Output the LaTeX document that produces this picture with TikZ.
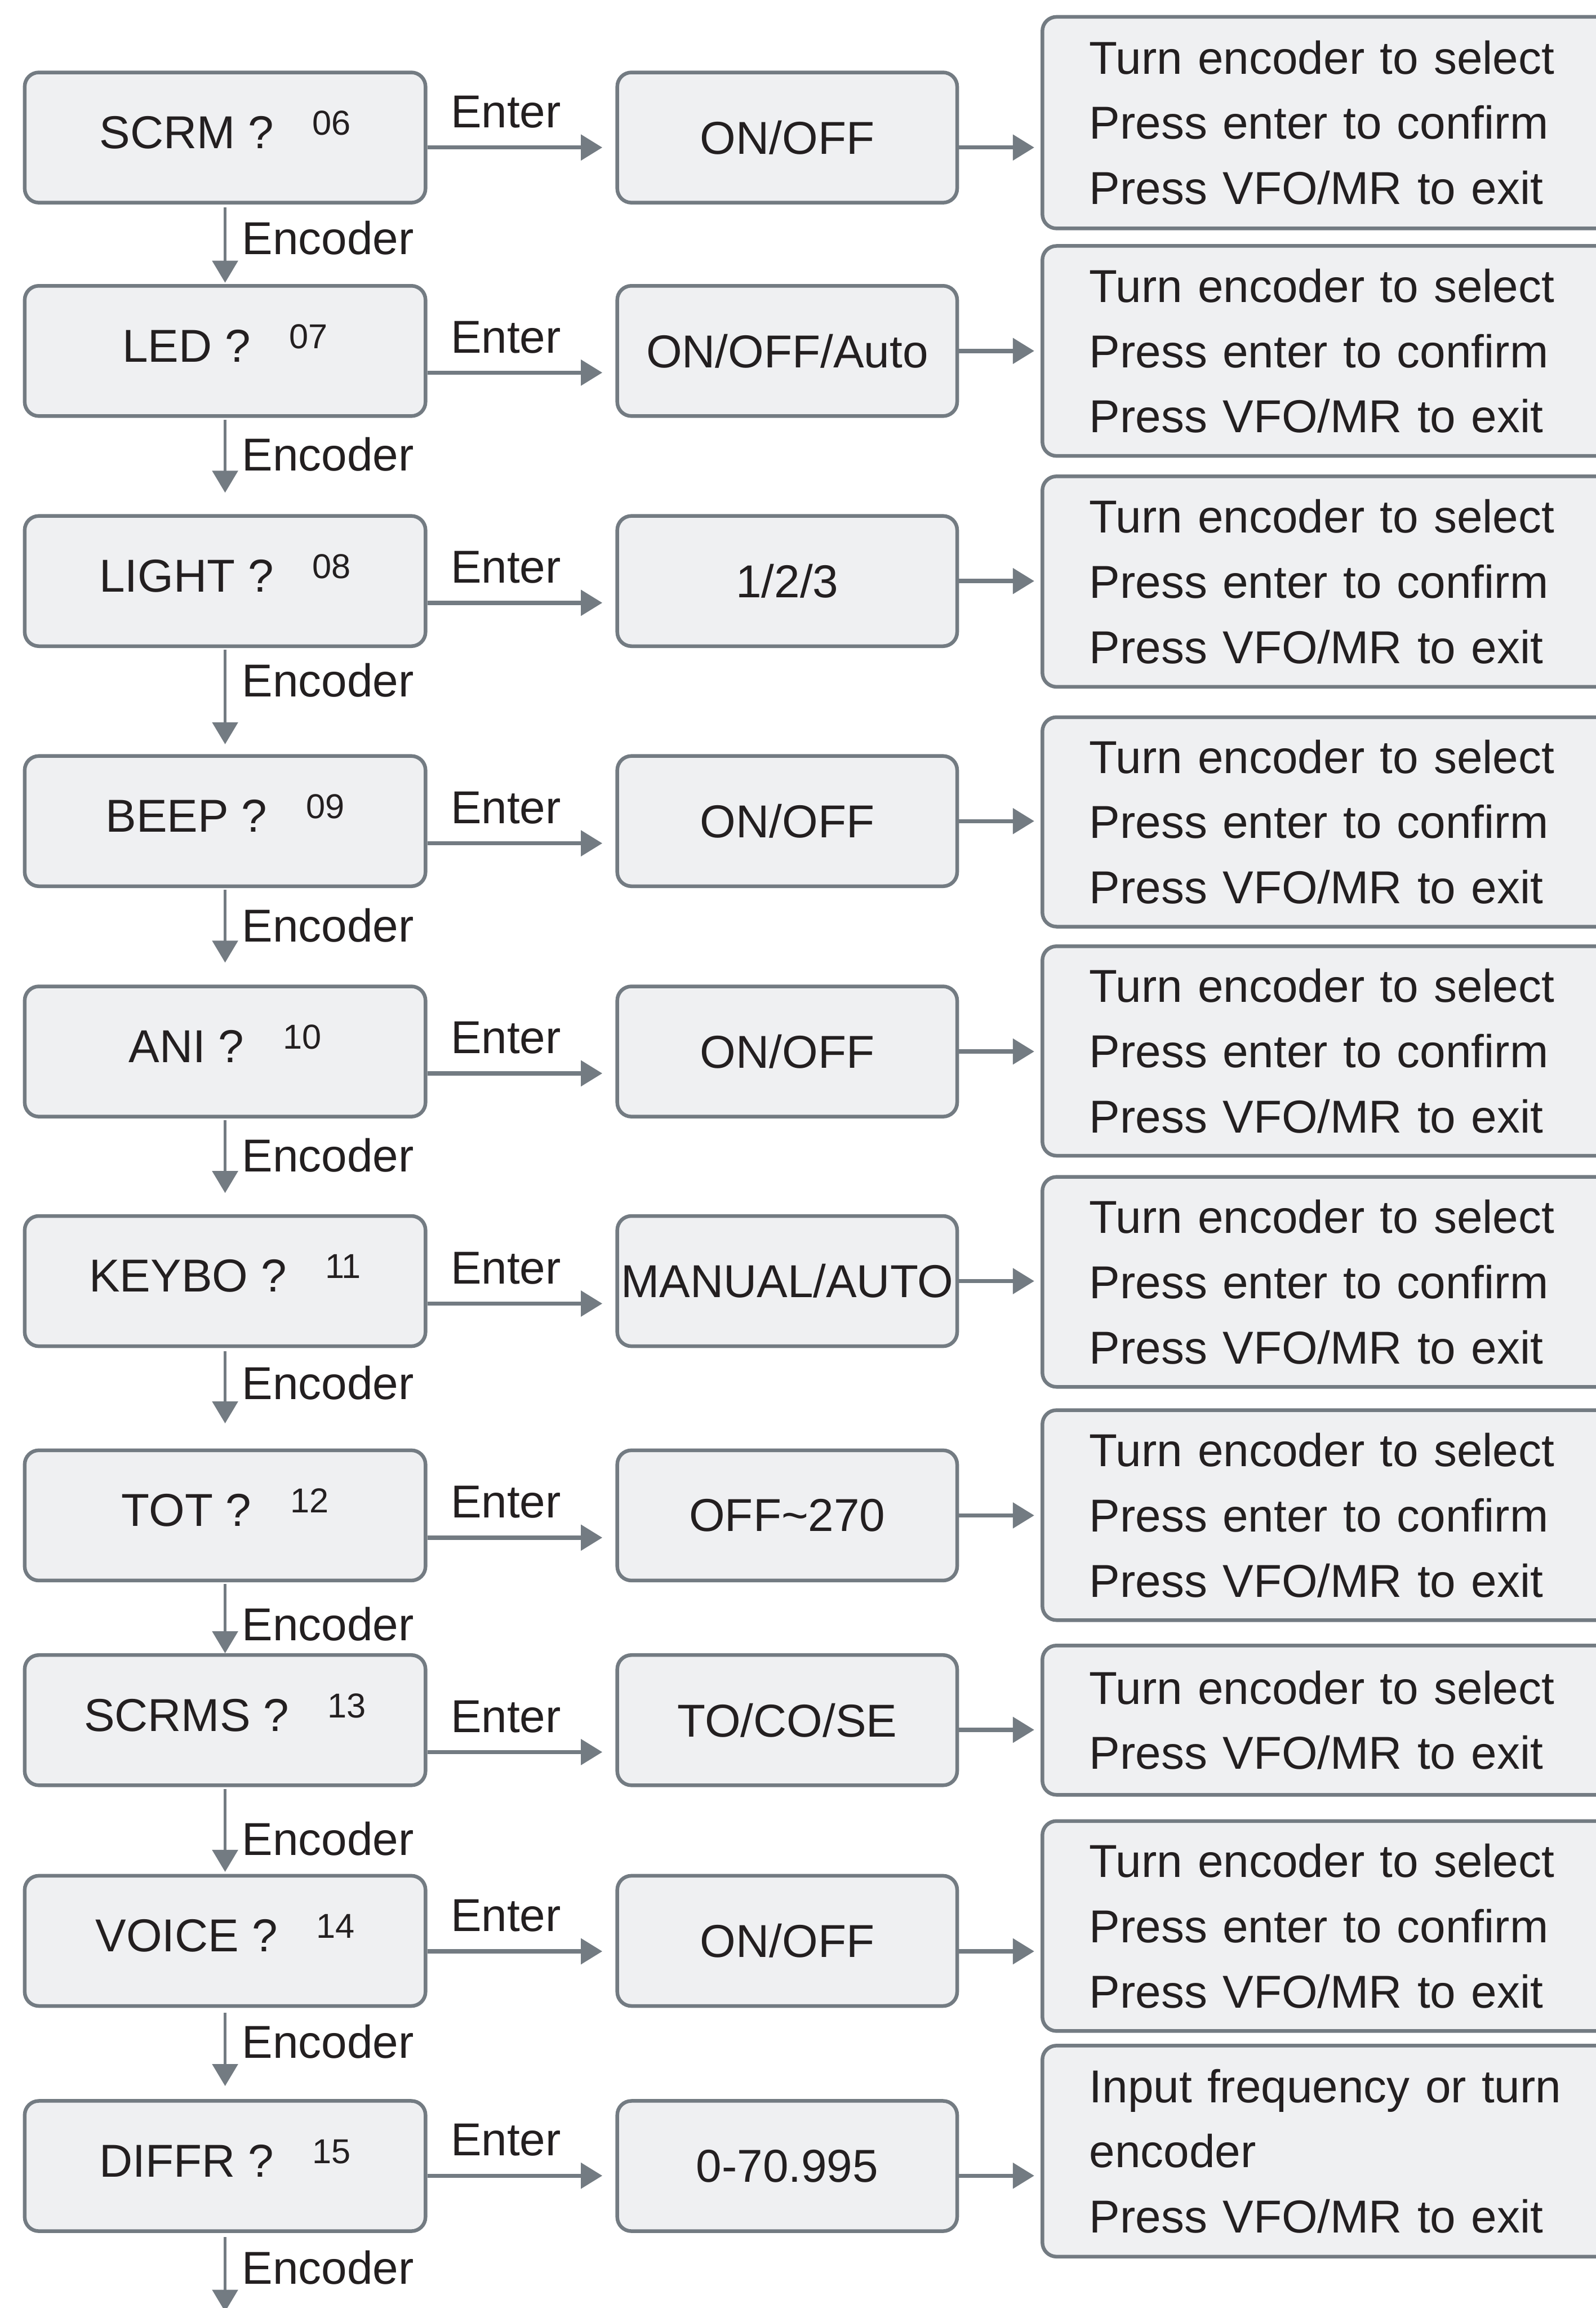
\documentclass[tikz,border=0pt]{standalone}
\usepackage{fontspec}
\setmainfont{Liberation Sans}
\usetikzlibrary{arrows.meta}
\definecolor{MGray}{HTML}{737B82}
\definecolor{MFill}{HTML}{EFF0F2}
\definecolor{MInk}{HTML}{231F20}
\newcommand{\menuno}[1]{\hspace{0.74cm}\raisebox{0.26cm}{\fontsize{18.8}{20}\selectfont #1}}
\newcommand{\hintall}{Turn encoder to select\\Press enter to confirm\\Press VFO/MR to exit}

\begin{document}
\begin{tikzpicture}[
  font=\fontsize{25.1}{35.5}\selectfont, text=MInk,
  box/.style={draw=MGray,line width=0.07cm,fill=MFill,rounded corners=0.27cm},
  menu/.style={box,minimum width=7.665cm,minimum height=2.49cm,inner sep=0pt,text depth=0.3cm},
  val/.style={box,minimum width=6.5cm,minimum height=2.49cm,inner sep=0pt},
  hint/.style={box,anchor=west,align=left,text width=9.6cm,inner xsep=0.9cm,
    inner ysep=0pt,minimum height=4.015cm},
  harr/.style={-{Triangle[length=0.41cm,width=0.48cm]},line width=0.08cm,draw=MGray},
  varr/.style={-{Triangle[length=0.42cm,width=0.49cm]},line width=0.045cm,draw=MGray},
  lbl/.style={anchor=base west,inner sep=0pt}
]
  \useasboundingbox (0,0) rectangle (30.52,-44.13);
  \clip (0,0) rectangle (30.52,-44.13);

  % menu items
  \node[menu] (scrm)  at (4.305,-2.63)   {SCRM ?\menuno{06}};
  \node[menu] (led)   at (4.305,-6.71)   {LED ?\menuno{07}};
  \node[menu] (light) at (4.305,-11.11)  {LIGHT ?\menuno{08}};
  \node[menu] (beep)  at (4.305,-15.70)  {BEEP ?\menuno{09}};
  \node[menu] (ani)   at (4.305,-20.105) {ANI ?\menuno{10}};
  \node[menu] (keybo) at (4.305,-24.495) {KEYBO ?\menuno{11}};
  \node[menu] (tot)   at (4.305,-28.975) {TOT ?\menuno{12}};
  \node[menu] (scrms) at (4.305,-32.89)  {SCRMS ?\menuno{13}};
  \node[menu] (voice) at (4.305,-37.11)  {VOICE ?\menuno{14}};
  \node[menu] (diffr) at (4.305,-41.415) {DIFFR ?\menuno{15}};

  % values
  \node[val] (vscrm)  at (15.055,-2.63)   {ON/OFF};
  \node[val] (vled)   at (15.055,-6.71)   {ON/OFF/Auto};
  \node[val] (vlight) at (15.055,-11.11)  {1/2/3};
  \node[val] (vbeep)  at (15.055,-15.70)  {ON/OFF};
  \node[val] (vani)   at (15.055,-20.105) {ON/OFF};
  \node[val] (vkeybo) at (15.055,-24.495) {MANUAL/AUTO};
  \node[val] (vtot)   at (15.055,-28.975) {OFF\textasciitilde 270};
  \node[val] (vscrms) at (15.055,-32.89)  {TO/CO/SE};
  \node[val] (vvoice) at (15.055,-37.11)  {ON/OFF};
  \node[val] (vdiffr) at (15.055,-41.415) {0-70.995};

  % hints
  \node[hint,minimum height=4.045cm] (hscrm) at (19.9,-2.345) {\hintall};
  \node[hint] (hled)   at (19.9,-6.71)  {\hintall};
  \node[hint,minimum height=4.025cm] (hlight) at (19.9,-11.12) {\hintall};
  \node[hint,minimum height=4.005cm] (hbeep)  at (19.9,-15.715) {\hintall};
  \node[hint,minimum height=4.005cm] (hani)   at (19.9,-20.095) {\hintall};
  \node[hint] (hkeybo) at (19.9,-24.51) {\hintall};
  \node[hint] (htot)   at (19.9,-28.97) {\hintall};
  \node[hint,minimum height=2.855cm] (hscrms) at (19.9,-32.89)
    {Turn encoder to select\\Press VFO/MR to exit};
  \node[hint] (hvoice) at (19.9,-36.826) {\hintall};
  \node[hint,minimum height=4.035cm] (hdiffr) at (19.9,-41.13)
    {Input frequency or turn\\encoder\\Press VFO/MR to exit};

  % enter arrows
  \foreach \m/\dy/\dz in {scrm/0.19/0.19,led/0.415/0,light/0.416/0,beep/0.424/0,
      ani/0.418/0,keybo/0.43/0,tot/0.425/0,scrms/0.61/0.185,voice/0.20/0.20,diffr/0.185/0.185}
    {\draw[harr,shorten >=0.25cm] ([yshift={-\dy*1cm}]\m.east) -- ([yshift={-\dy*1cm}]v\m.west);
     \node[lbl] (e\m) at ([xshift=0.44cm,yshift={(0.38-\dy)*1cm}]\m.east) {Enter};
     \draw[harr,shorten >=0.12cm] ([yshift={-\dz*1cm}]v\m.east) coordinate (s\m) -- (s\m -| h\m.west);}

  % encoder arrows
  \foreach \a/\b/\s/\e in {scrm/led/0.06/0.025,led/light/0.035/0.41,light/beep/0.035/0.19,
      beep/ani/0.035/0.42,ani/keybo/0.035/0.405,keybo/tot/0.065/0.48,tot/scrms/0.03/0,
      scrms/voice/0.04/0.04,voice/diffr/0.09/0.25}
    {\draw[varr,shorten <=\s cm,shorten >=\e cm] (\a.south) -- (\b.north);}
  \coordinate (tail) at (4.305,-44.20);
  \draw[varr,shorten <=0.08cm] (diffr.south) -- (tail);

  \foreach \a/\y in {scrm/4.86,led/9.006,light/13.324,beep/18.005,ani/22.406,
      keybo/26.76,tot/31.366,scrms/35.474,voice/39.35,diffr/43.67}
    {\node[lbl] (n\a) at (4.62,-\y) {Encoder};}
\end{tikzpicture}
\end{document}
